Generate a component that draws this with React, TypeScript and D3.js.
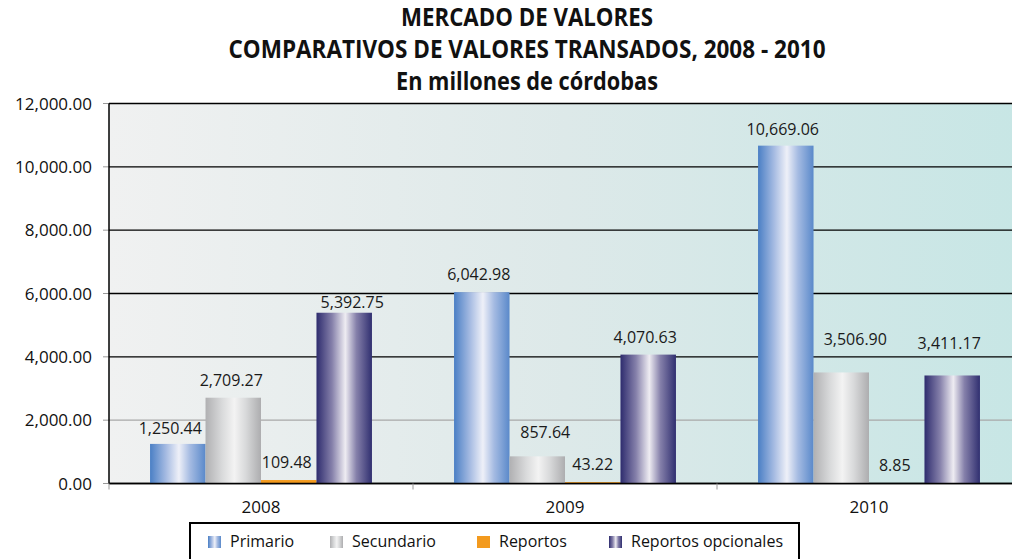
import React from "react";
import * as d3 from "d3";

const years = ["2008", "2009", "2010"];
const seriesNames = ["Primario", "Secundario", "Reportos", "Reportos opcionales"];
const primario = [1250.44, 6042.98, 10669.06];
const secundario = [2709.27, 857.64, 3506.9];
const reportos = [109.48, 43.22, 8.85];
const reportosOpcionales = [5392.75, 4070.63, 3411.17];
const yTicks = [0, 2000, 4000, 6000, 8000, 10000, 12000];
const titleLines = [
  "MERCADO DE VALORES",
  "COMPARATIVOS DE VALORES TRANSADOS, 2008 - 2010",
  "En millones de córdobas",
];

// Label nudges (layout only): [dx, gap above bar top] per year, per series
const labelNudge: [number, number][][] = [
  [[-7.5, 9.5], [-2, 12], [-2, 12], [8, 5]],
  [[-3, 12], [8, 18], [0, 12], [-3, 12]],
  [[-3, 11], [14, 27], [-2, 12], [-3, 26]],
];

const W = 1012;
const H = 559;
const plotLeft = 109;
const plotRight = 1021;
const plotTop = 103.5;
const plotBottom = 483.5;

const FONT = "'Open Sans', 'Noto Sans', sans-serif";

const gradIds = ["gPrim", "gSec", "gRep", "gOpc"];
const legendSwatchX = [208, 330, 477, 609];

export default function App() {
  const allSeries = [primario, secundario, reportos, reportosOpcionales];
  const x = d3.scaleBand<string>().domain(years).range([plotLeft, plotRight]).paddingInner(0).paddingOuter(0);
  const xs = d3
    .scaleBand<string>()
    .domain(seriesNames)
    .range([0, x.bandwidth()])
    .paddingInner(0)
    .paddingOuter(0.74);
  const y = d3.scaleLinear().domain([0, 12000]).range([plotBottom, plotTop]);
  const fmt = d3.format(",.2f");
  const titleWidths = [252, 597, 262];
  const titleBase = [26, 57.5, 89.5];

  return (
    <svg
      width={W}
      height={H}
      style={{ position: "absolute", left: 0, top: 0, background: "#fff" }}
      fontFamily={FONT}
    >
      <defs>
        <linearGradient id="bgGrad" x1="0" x2="1" y1="0" y2="0">
          <stop offset="0%" stopColor="#f0f1f1" />
          <stop offset="50%" stopColor="#dde9e9" />
          <stop offset="100%" stopColor="#c7e6e5" />
        </linearGradient>
        <linearGradient id="gPrim" x1="0" x2="1" y1="0" y2="0">
          <stop offset="0%" stopColor="#4a7fc5" />
          <stop offset="28%" stopColor="#a3b9e1" />
          <stop offset="52%" stopColor="#eef0f8" />
          <stop offset="72%" stopColor="#a5bbe2" />
          <stop offset="100%" stopColor="#5a89ca" />
        </linearGradient>
        <linearGradient id="gSec" x1="0" x2="1" y1="0" y2="0">
          <stop offset="0%" stopColor="#b0b0b2" />
          <stop offset="30%" stopColor="#d9dadb" />
          <stop offset="52%" stopColor="#f3f3f3" />
          <stop offset="72%" stopColor="#d9dadb" />
          <stop offset="100%" stopColor="#adadaf" />
        </linearGradient>
        <linearGradient id="gRep" x1="0" x2="1" y1="0" y2="0">
          <stop offset="0%" stopColor="#f39a1e" />
          <stop offset="100%" stopColor="#f39a1e" />
        </linearGradient>
        <linearGradient id="gOpc" x1="0" x2="1" y1="0" y2="0">
          <stop offset="0%" stopColor="#2e2c6e" />
          <stop offset="28%" stopColor="#8580aa" />
          <stop offset="52%" stopColor="#eeecf2" />
          <stop offset="72%" stopColor="#8580aa" />
          <stop offset="100%" stopColor="#302f70" />
        </linearGradient>
      </defs>

      {/* Title */}
      {titleLines.map((t, i) => (
        <text
          key={t}
          x={527}
          y={titleBase[i]}
          textAnchor="middle"
          fontWeight="bold"
          fontSize={25}
          fill="#111"
          textLength={titleWidths[i]}
          lengthAdjust="spacingAndGlyphs"
        >
          {t}
        </text>
      ))}

      {/* Plot background */}
      <rect x={plotLeft} y={plotTop} width={plotRight - plotLeft} height={plotBottom - plotTop} fill="url(#bgGrad)" />

      {/* Gridlines */}
      {yTicks.map((t) => (
        <line
          key={"g" + t}
          x1={plotLeft}
          x2={plotRight}
          y1={y(t)}
          y2={y(t)}
          stroke={t === 2000 ? "#a8a8a8" : "#000"}
          strokeWidth={t === 2000 ? 1.2 : 1.4}
        />
      ))}

      {/* Y tick marks and labels */}
      {yTicks.map((t) => (
        <g key={"t" + t}>
          <line x1={103} x2={plotLeft} y1={y(t)} y2={y(t)} stroke="#999" strokeWidth={1} />
          <text x={92} y={y(t)} dy="0.36em" textAnchor="end" fontSize={17} fill="#111">
            {fmt(t)}
          </text>
        </g>
      ))}

      {/* Bars */}
      {years.map((yr, i) => (
        <g key={yr} transform={`translate(${x(yr)},0)`}>
          {seriesNames.map((s, j) => {
            const v = allSeries[j][i];
            const bx = xs(s)!;
            const bw = xs.bandwidth();
            const [dx, gap] = labelNudge[i][j];
            return (
              <g key={s}>
                <rect x={bx} y={y(v)} width={bw} height={plotBottom - y(v)} fill={`url(#${gradIds[j]})`} />
                <text
                  x={bx + bw / 2 + dx}
                  y={y(v) - gap}
                  textAnchor="middle"
                  fontSize={16}
                  fill="#1a1a1a"
                >
                  {fmt(v)}
                </text>
              </g>
            );
          })}
        </g>
      ))}

      {/* Axes lines */}
      <line x1={plotLeft} x2={plotLeft} y1={plotTop} y2={plotBottom} stroke="#000" strokeWidth={1.5} />
      <line x1={plotLeft} x2={plotRight} y1={plotBottom} y2={plotBottom} stroke="#000" strokeWidth={1.5} />

      {/* Category ticks & labels */}
      {years.map((yr) => (
        <line
          key={"ct" + yr}
          x1={x(yr)!}
          x2={x(yr)!}
          y1={plotBottom}
          y2={plotBottom + 6}
          stroke="#999"
          strokeWidth={1}
        />
      ))}
      {years.map((yr) => (
        <text
          key={"cl" + yr}
          x={x(yr)! + x.bandwidth() / 2}
          y={513}
          textAnchor="middle"
          fontSize={17}
          fill="#111"
        >
          {yr}
        </text>
      ))}

      {/* Legend */}
      <rect x={190} y={523} width={609} height={50} fill="#fff" stroke="#000" strokeWidth={2} />
      {seriesNames.map((s, j) => (
        <g key={"lg" + s}>
          <rect x={legendSwatchX[j]} y={536} width={13} height={12} fill={`url(#${gradIds[j]})`} />
          <text x={legendSwatchX[j] + 22} y={547} fontSize={16} fill="#111">
            {s}
          </text>
        </g>
      ))}
    </svg>
  );
}
